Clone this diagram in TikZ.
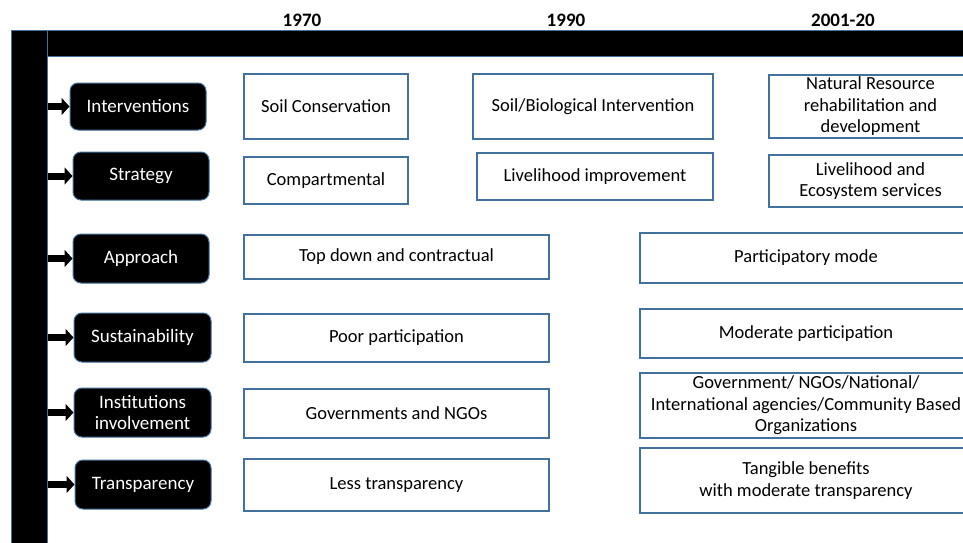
\documentclass[tikz,border=0pt]{standalone}
\usepackage{fontspec}
\setmainfont{Carlito}
\usetikzlibrary{arrows.meta}
\definecolor{bcol}{RGB}{65,113,156}
\begin{document}
\begin{tikzpicture}[x=1pt,y=-1pt,
  lblbox/.style={fill=black,draw=bcol,line width=1pt,rounded corners=8pt,text=white,
    align=center,inner sep=0pt,font=\fontsize{19}{21.5}\selectfont},
  cell/.style={fill=white,draw=bcol,line width=1.3pt,align=center,inner sep=0pt,
    font=\fontsize{18.5}{21.5}\selectfont},
  bar/.style={fill=black,draw=bcol,line width=1pt,inner sep=0pt},
  year/.style={font=\fontsize{19}{21}\selectfont\bfseries,inner sep=0pt},
  link/.style={line width=7pt,-{Triangle[length=8pt,width=17pt]}}]
\useasboundingbox (0,0) rectangle (963,543);
\clip (0,0) rectangle (963,543);
% bars
\node[bar,minimum width=36pt,minimum height=520pt] (vbar) at (29,291) {};
\node[bar,minimum width=928pt,minimum height=26pt] (hbar) at (511,44) {};
% years
\node[year] (y1) at (302,20) {1970};
\node[year] (y2) at (566,20) {1990};
\node[year] (y3) at (843,20) {2001-20};
% left labels
\node[lblbox,minimum width=136pt,minimum height=47pt] (int) at (138,106.5) {Interventions};
\node[lblbox,minimum width=136pt,minimum height=48pt] (str) at (141,176) {Strategy};
\node[lblbox,minimum width=136pt,minimum height=49pt] (app) at (141,258.5) {Approach};
\node[lblbox,minimum width=137pt,minimum height=49pt] (sus) at (142.5,337.5) {Sustainability};
\node[lblbox,minimum width=137pt,minimum height=49pt] (ins) at (142.5,412.5) {Institutions\\involvement};
\node[lblbox,minimum width=136pt,minimum height=49pt] (tra) at (143,484.5) {Transparency};
% arrows
\foreach \n in {int,str,app,sus,ins,tra}
  \draw[link] (vbar.east |- \n.west) -- (\n.west);
% cells
\node[cell,minimum width=164pt,minimum height=65pt] (c11) at (326,106.5) {Soil Conservation};
\node[cell,minimum width=240pt,minimum height=65pt] (c21) at (593,106.5) {Soil/Biological Intervention};
\node[cell,minimum width=203pt,minimum height=63pt] (c31) at (870.5,106.5) {Natural Resource\\rehabilitation and\\development};
\node[cell,minimum width=164pt,minimum height=47pt] (c12) at (326,180.5) {Compartmental};
\node[cell,minimum width=236pt,minimum height=47pt] (c22) at (595,176.5) {Livelihood improvement};
\node[cell,minimum width=203pt,minimum height=52pt] (c32) at (870.5,181) {Livelihood and\\Ecosystem services};
\node[cell,minimum width=305pt,minimum height=44pt] (c13) at (396.5,257) {Top down and contractual};
\node[cell,minimum width=332pt,minimum height=50pt] (c33) at (806,258) {Participatory mode};
\node[cell,minimum width=305pt,minimum height=48pt] (c14) at (396.5,338) {Poor participation};
\node[cell,minimum width=332pt,minimum height=49pt] (c34) at (806,333.5) {Moderate participation};
\node[cell,minimum width=305pt,minimum height=49pt] (c15) at (396.5,413.5) {Governments and NGOs};
\node[cell,minimum width=332pt,minimum height=65pt] (c35) at (806,405.5) {Government/ NGOs/National/\\International agencies/Community Based\\Organizations};
\node[cell,minimum width=305pt,minimum height=52pt] (c16) at (396.5,485) {Less transparency};
\node[cell,minimum width=332pt,minimum height=65pt] (c36) at (806,480.5) {Tangible benefits\\with moderate transparency};
\end{tikzpicture}
\end{document}
